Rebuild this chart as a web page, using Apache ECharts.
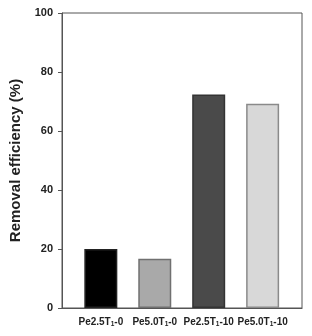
<!DOCTYPE html>
<html>
<head>
<meta charset="utf-8">
<script src="https://cdn.jsdelivr.net/npm/echarts@6/dist/echarts.min.js"></script>
<style>
  html, body { margin: 0; padding: 0; background: #fff; }
  #chart { width: 312px; height: 336px; }
</style>
</head>
<body>
<div id="chart"></div>
<script>
// 样品名称 (T 后面的 1 为下标)
const samples = ['Pe2.5T|1|-0', 'Pe5.0T|1|-0', 'Pe2.5T|1|-10', 'Pe5.0T|1|-10'];
// 去除率 (%)
const removal = [20.0, 16.7, 72.4, 69.2];
// 柱子颜色 / 边框颜色
const barColors = ['#000000', '#a9a9a9', '#4a4a4a', '#d8d8d8'];
const barBorders = ['#222222', '#707070', '#333333', '#8a8a8a'];

const positions = samples.map((s, i) => i + 1);

const chart = echarts.init(document.getElementById('chart'));

chart.setOption({
  backgroundColor: '#fff',
  animation: false,
  grid: {
    left: 58,
    right: 10,
    top: 13,
    bottom: 28,
    show: true,
    borderColor: '#555',
    borderWidth: 1
  },
  // 用数值轴让柱子间距与图框留白一致
  xAxis: {
    type: 'value',
    min: 0.28,
    max: 4.73,
    splitLine: { show: false },
    axisLine: { show: true, lineStyle: { color: '#555', width: 1.2 } },
    axisTick: { show: false },
    axisLabel: {
      customValues: positions,
      hideOverlap: false,
      showMinLabel: true,
      showMaxLabel: true,
      margin: 8,
      formatter: function (v) {
        const parts = samples[Math.round(v) - 1].split('|');
        return '{a|' + parts[0] + '}{s|' + parts[1] + '}{a|' + parts[2] + '}';
      },
      rich: {
        a: { fontFamily: 'Liberation Sans', fontWeight: 'bold', fontSize: 10, color: '#222' },
        s: { fontFamily: 'Liberation Sans', fontWeight: 'bold', fontSize: 6.5, color: '#222', verticalAlign: 'bottom', padding: [5, 0, 0, 0] }
      }
    }
  },
  yAxis: {
    type: 'value',
    min: 0,
    max: 100,
    interval: 20,
    name: 'Removal efficiency (%)',
    nameLocation: 'middle',
    nameGap: 39,
    nameTextStyle: { fontFamily: 'Liberation Sans', fontWeight: 'bold', fontSize: 15, color: '#222' },
    splitLine: { show: false },
    axisLine: { show: true, lineStyle: { color: '#555', width: 1 } },
    axisTick: { show: true, length: 4, lineStyle: { color: '#555' } },
    axisLabel: {
      margin: 9,
      fontFamily: 'Liberation Sans',
      fontWeight: 'bold',
      fontSize: 11,
      color: '#222'
    }
  },
  series: [{
    type: 'bar',
    barWidth: 33,
    data: removal.map((v, i) => ({
      value: [positions[i], v],
      itemStyle: { color: barColors[i], borderColor: barBorders[i], borderWidth: 1.5 }
    }))
  }]
});
</script>
</body>
</html>
